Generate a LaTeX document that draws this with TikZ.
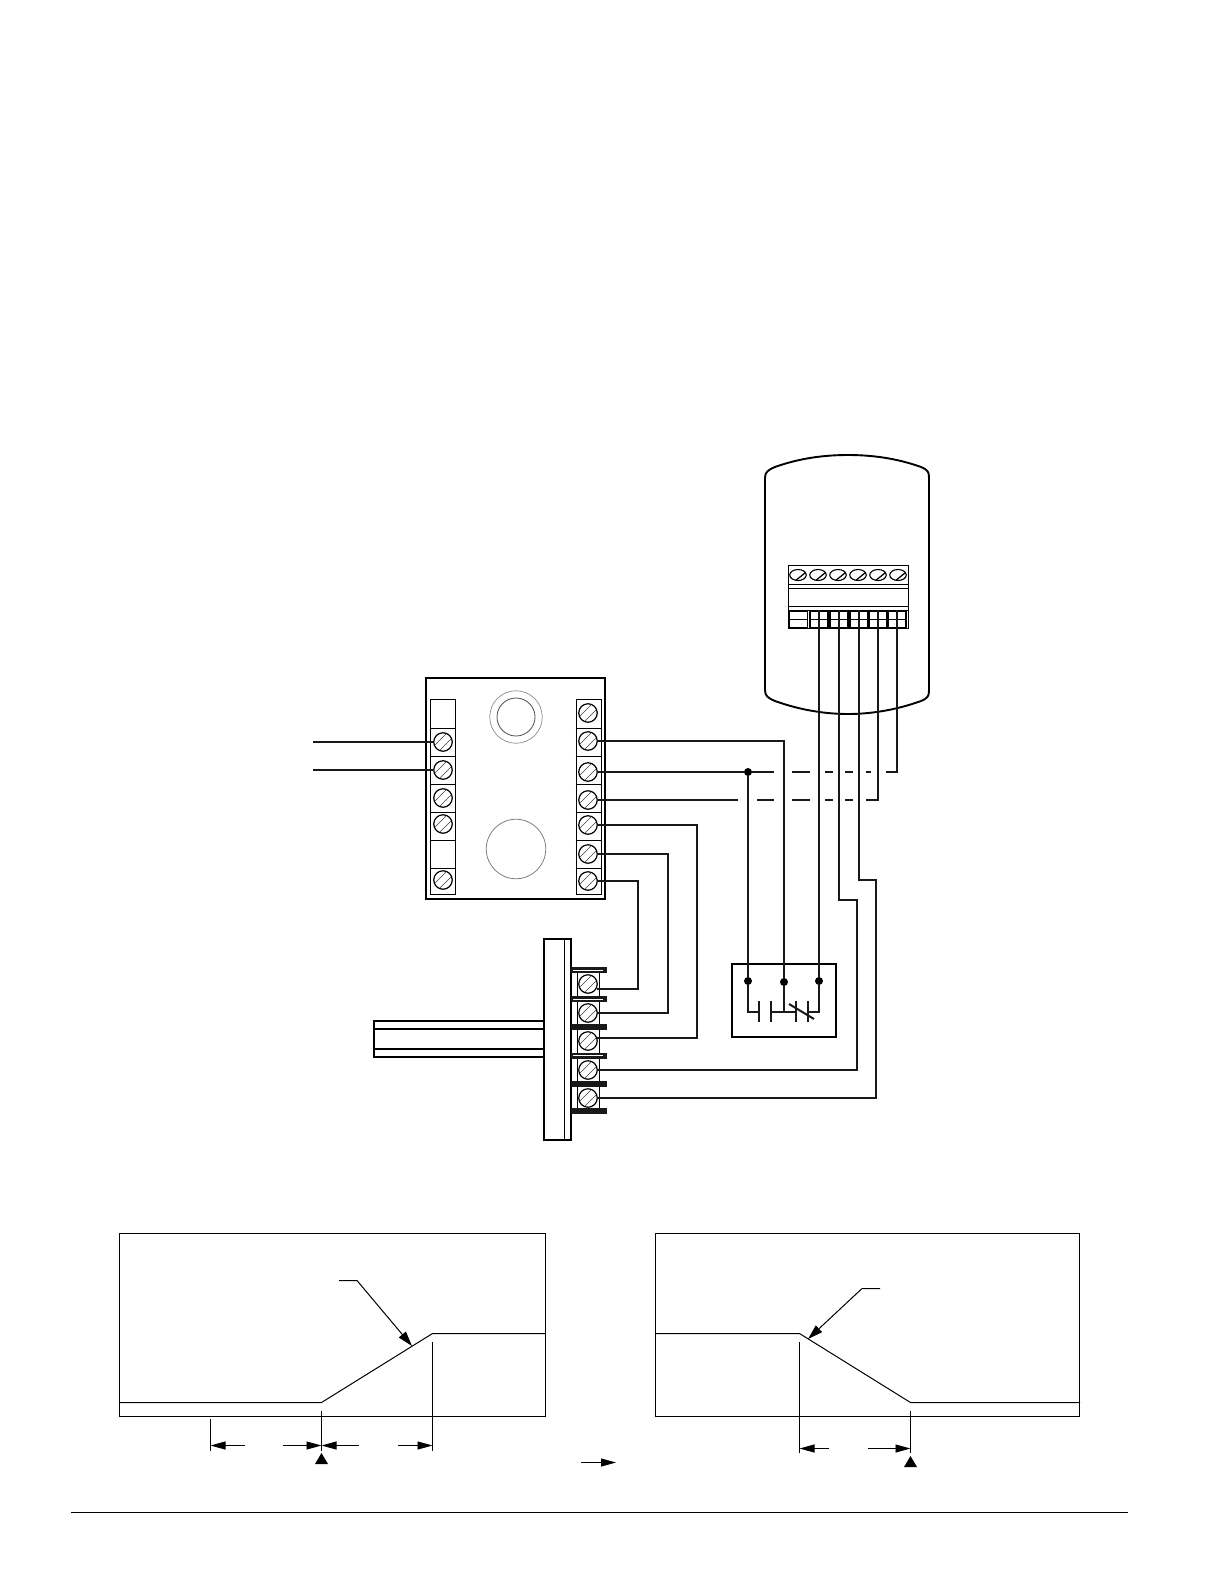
\documentclass[tikz,border=0pt]{standalone}
\usepackage{tikz}
\usetikzlibrary{shapes.geometric}
\usetikzlibrary{positioning}
\usetikzlibrary{arrows.meta}

\tikzset{
  wire/.style={line width=2bp, color=black!90},
  frame/.style={draw, line width=2.6bp, inner sep=0pt},
  termbox/.style={draw, line width=0.9bp, inner sep=0pt},
  thinline/.style={line width=1bp},
  dimline/.style={line width=1bp},
  dimarrow/.style={line width=0.9bp, -{Triangle[length=15bp,width=8bp]}},
  screw/.style={circle, draw, fill=white, line width=1.2bp, minimum size=18.5bp, inner sep=0pt,
    path picture={
      \draw[line width=0.6bp, black!75] ([xshift=-8bp,yshift=-3bp]path picture bounding box.center) -- ([xshift=3bp,yshift=8bp]path picture bounding box.center);
      \draw[line width=0.6bp, black!75] ([xshift=-3bp,yshift=-8bp]path picture bounding box.center) -- ([xshift=8bp,yshift=3bp]path picture bounding box.center);
    }},
  flatscrew/.style={ellipse, draw, fill=white, line width=1.1bp, minimum width=16.5bp, minimum height=11bp, inner sep=0pt,
    path picture={
      \draw[line width=1.2bp] ([xshift=-3bp,yshift=-6bp]path picture bounding box.center) -- ([xshift=7bp,yshift=2bp]path picture bounding box.center);
    }},
  cell/.style={draw, fill=white, line width=1.4bp, minimum width=18bp, minimum height=17bp, inner sep=0pt,
    path picture={
      \draw[line width=0.8bp] (path picture bounding box.west) -- (path picture bounding box.east);
    }},
  contact/.style={circle, fill=black, inner sep=0pt, minimum size=8bp},
  tab/.style={fill=black!90, inner sep=0pt, minimum width=36bp, minimum height=6bp},
  tabslot/.style={draw=white, line width=0.9bp},
}

\begin{document}
\begin{tikzpicture}[x=1bp, y=-1bp]
  \useasboundingbox (0,0) rectangle (1224,1584);

  % housing
  \draw[line width=1.9bp] (765,478) .. controls (765,472) and (768,470) .. (775,467)
    .. controls (800,458) and (825,455) .. (848,455)
    .. controls (871,455) and (896,458) .. (921,467)
    .. controls (928,470) and (929,472) .. (929,478)
    -- (929,690)
    .. controls (929,696) and (928,698) .. (921,701)
    .. controls (896,710) and (871,714) .. (848,714)
    .. controls (825,714) and (800,710) .. (775,701)
    .. controls (768,698) and (765,696) .. (765,690) -- cycle;

  \node[draw, line width=1bp, minimum width=120bp, minimum height=63bp, inner sep=0pt] (strip) at (848,596.5) {};
  \draw[thinline] (788,584.5) -- (908,584.5);
  \draw[thinline] (788,588.5) -- (908,588.5);
  \draw[thinline] (788,606.5) -- (908,606.5);
  \draw[thinline] (788,610.5) -- (908,610.5);

  \node[flatscrew] (hs1) at (798,575) {};
  \node[flatscrew] (hs2) at (818,575) {};
  \node[flatscrew] (hs3) at (838,575) {};
  \node[flatscrew] (hs4) at (858,575) {};
  \node[flatscrew] (hs5) at (878,575) {};
  \node[flatscrew] (hs6) at (898,575) {};

  \node[cell] (cell1) at (798.5,619.5) {};
  \node[cell] (cell2) at (819,619.5) {};
  \node[cell] (cell3) at (839,619.5) {};
  \node[cell] (cell4) at (859,619.5) {};
  \node[cell] (cell5) at (878,619.5) {};
  \node[cell] (cell6) at (897,619.5) {};

  % controller
  \node[frame, minimum width=179bp, minimum height=221bp] (ctrl) at (515.5,788.5) {};
  \node[termbox, minimum width=24.5bp, minimum height=195bp] (leftblock) at (443,796.5) {};
  \node[termbox, minimum width=25bp, minimum height=195bp] (rightblock) at (588.5,796.5) {};
  \foreach \y in {728,756,784,812,840,868} {
    \draw[line width=0.9bp] (leftblock.west |- 0,\y) -- (leftblock.east |- 0,\y);
    \draw[line width=0.9bp] (rightblock.west |- 0,\y) -- (rightblock.east |- 0,\y);
  }

  \node[circle, draw=black!70, line width=0.8bp, minimum size=38bp, inner sep=0pt] (knobinner) at (516,717) {};
  \node[circle, draw=black!45, line width=0.7bp, minimum size=52.5bp, inner sep=0pt] (knobouter) at (516,717) {};
  \node[circle, draw=black!50, line width=0.8bp, minimum size=59.5bp, inner sep=0pt] (knoblower) at (516,849) {};

  \node[screw] (lf2) at (443,742) {};
  \node[screw] (lf3) at (443,770) {};
  \node[screw] (lf4) at (443,798) {};
  \node[screw] (lf5) at (443,824) {};
  \node[screw] (lf7) at (443,880) {};

  \node[screw] (rt1) at (588,713) {};
  \node[screw] (rt2) at (588,741) {};
  \node[screw] (rt3) at (588,772) {};
  \node[screw] (rt4) at (588,800) {};
  \node[screw] (rt5) at (588,825) {};
  \node[screw] (rt6) at (588,854) {};
  \node[screw] (rt7) at (588,881) {};

  % duct sensor
  \draw[line width=2.6bp] (551,1021) -- (374,1021) -- (374,1057) -- (551,1057);
  \draw[line width=1.7bp] (374,1029) -- (551,1029);
  \draw[line width=1.7bp] (374,1049) -- (551,1049);
  \node[draw, fill=white, line width=2.2bp, minimum width=27bp, minimum height=201bp, inner sep=0pt] (plate) at (557.5,1039.5) {};
  \draw[thinline] (564,939) -- (564,1140);

  \node[termbox, minimum width=21.5bp, minimum height=140bp] (ductblock) at (588.5,1041) {};
  \node[tab] (tab1) at (589,970) {};
  \node[tab] (tab2) at (589,999) {};
  \node[tab] (tab3) at (589,1027) {};
  \node[tab] (tab4) at (589,1055.5) {};
  \node[tab] (tab5) at (589,1084) {};
  \node[tab] (tab6) at (589,1111) {};
  \draw[tabslot] (573,970) -- (603,970);
  \draw[tabslot] (573,999) -- (603,999);
  \draw[tabslot] (573,1055) -- (603,1055);

  \node[screw] (dt1) at (588,984) {};
  \node[screw] (dt2) at (588,1013) {};
  \node[screw] (dt3) at (588,1041) {};
  \node[screw] (dt4) at (588,1070) {};
  \node[screw] (dt5) at (588,1098) {};

  % switch
  \node[frame, minimum width=104bp, minimum height=73bp] (switch) at (784,1000.5) {};
  \node[contact] (sw1) at (748,981) {};
  \node[contact] (sw2) at (784,982) {};
  \node[contact] (sw3) at (819,981) {};
  \draw[wire] (sw1) |- (759,1012);
  \draw[wire] (sw2) -- (784,1012);
  \draw[wire] (771,1012) -- (796,1012);
  \draw[wire] (sw3) |- (808,1012);
  \draw[wire] (759,1001) -- (759,1022);
  \draw[wire] (771,1001) -- (771,1022);
  \draw[wire] (796,1001) -- (796,1022);
  \draw[wire] (808,1001) -- (808,1022);
  \draw[wire] (789,1004) -- (814,1019);

  % wires
  \coordinate (feedA) at (313,742);
  \coordinate (feedB) at (313,770);
  \draw[wire] (feedA) -- (lf2);
  \draw[wire] (feedB) -- (lf3);

  \node[contact] (tee) at (748,772) {};
  \draw[wire] (rt2.east) -| (sw2);
  \draw[wire] (rt3.east) -- (tee) -- (774,772);
  \draw[wire] (tee) -- (sw1);
  \draw[wire] (792,772) -- (810,772) (825,772) -- (833,772) (845,772) -- (853,772) (866,772) -- (871,772);
  \draw[wire] (886,772) -| (cell6.north);
  \draw[wire] (rt4.east) -- (738,800);
  \draw[wire] (757,800) -- (774,800) (792,800) -- (810,800) (825,800) -- (833,800) (845,800) -- (853,800);
  \draw[wire] (866,800) -| (cell5.north);
  \draw[wire] (rt5.east) -| (697,1038) -- (dt3.20 |- 0,1038);
  \draw[wire] (rt6.east) -| (668,1013) -- (dt2);
  \draw[wire] (rt7.east) -| (638,989) -- (dt1.-30 |- 0,989);

  \draw[wire] (cell2.north) -- (sw3);
  \draw[wire] (cell3.north) |- (857,900) |- (dt4.east);
  \draw[wire] (cell4.north) |- (876,880) |- (dt5.east);

  % left chart
  \node[draw, thinline, minimum width=425bp, minimum height=183bp, inner sep=0pt] (chartA) at (332.5,1325) {};
  \coordinate (lowA) at (321.5,1402.5);
  \coordinate (highA) at (432.5,1333.5);
  \draw[dimline] (chartA.west |- lowA) -- (lowA) -- (highA) -- (chartA.east |- highA);
  \draw[dimline, -{Triangle[length=15bp,width=9bp]}] (339,1280.5) -- (357,1280.5) -- (412,1346);

  \coordinate (startA) at (210.5,1445.5);
  \coordinate (midA) at (321.5,1445.5);
  \coordinate (endA) at (432.5,1445.5);
  \draw[dimline] (210.5,1419) -- (210.5,1451);
  \draw[dimline] (321.5,1411) -- (321.5,1451);
  \draw[dimline] (432.5,1342) -- (432.5,1451);
  \draw[dimarrow] (245,1445.5) -- (startA);
  \draw[dimarrow] (283,1445.5) -- (midA);
  \draw[dimarrow] (359,1445.5) -- (midA);
  \draw[dimarrow] (398,1445.5) -- (endA);
  \fill (321.5,1453) -- (328,1464) -- (315,1464) -- cycle;

  % middle arrow
  \coordinate (nextA) at (581,1462.5);
  \coordinate (nextB) at (616,1462.5);
  \draw[dimarrow] (nextA) -- (nextB);

  % right chart
  \node[draw, thinline, minimum width=424bp, minimum height=183bp, inner sep=0pt] (chartB) at (867.5,1325) {};
  \coordinate (highB) at (799.5,1333.5);
  \coordinate (lowB) at (910.5,1402.5);
  \draw[dimline] (chartB.west |- highB) -- (highB) -- (lowB) -- (chartB.east |- lowB);
  \draw[dimline, -{Triangle[length=15bp,width=9bp]}] (880,1288.5) -- (862,1288.5) -- (808,1339);

  \coordinate (startB) at (799.5,1448.5);
  \coordinate (endB) at (910.5,1448.5);
  \draw[dimline] (799.5,1342) -- (799.5,1453);
  \draw[dimline] (910.5,1411) -- (910.5,1453);
  \draw[dimarrow] (829,1448.5) -- (startB);
  \draw[dimarrow] (868,1448.5) -- (endB);
  \fill (910.5,1456) -- (917,1467) -- (904,1467) -- cycle;

  % footer
  \draw[line width=1bp] (71,1512.5) -- (1128,1512.5);
\end{tikzpicture}
\end{document}
